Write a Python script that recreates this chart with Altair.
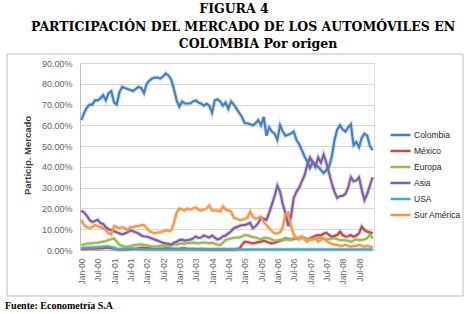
import altair as alt
import pandas as pd

# ---------------- data ----------------
series_names = ["Colombia", "México", "Europa", "Asia", "USA", "Sur América"]
series_colors = ["#4a7ebb", "#be4b48", "#98b954", "#7d60a0", "#46aac5", "#f79646"]

tick_labels = ["Jan-00", "Jul-00", "Jan-01", "Jul-01", "Jan-02", "Jul-02",
               "Jan-03", "Jul-03", "Jan-04", "Jul-04", "Jan-05", "Jul-05",
               "Jan-06", "Jul-06", "Jan-07", "Jul-07", "Jan-08", "Jul-08"]

colombia = [62.5, 66, 68.5, 70, 70, 72, 72, 73, 74.5, 72,
            75.5, 76.5, 71, 70, 76, 78.5, 78, 77.5, 77, 76.5,
            77.5, 78.5, 78, 75.5, 80, 81.5, 82.5, 83, 83, 82.5,
            83.5, 85, 84, 82, 77.5, 72, 69, 71.5, 70.5, 70.5,
            70.5, 71.5, 72, 71, 70.5, 69.5, 70.5, 69.5, 66, 72,
            72.5, 71.5, 69.5, 71, 68, 71.5, 70, 68, 66, 64,
            61, 61, 60.5, 60, 61, 62.5, 60, 64, 55, 59,
            57, 56, 53, 60, 57, 55, 55.5, 56, 57, 53,
            51, 48, 45, 42.5, 39.5, 42.5, 41, 40, 38.5, 37,
            38.5, 40, 45, 53, 58, 60, 58, 57, 59, 60.5,
            50.5, 52, 49.5, 54, 56, 55, 50, 48]

mexico = [0.5, 0.5, 0.6, 0.6, 0.7, 0.7, 0.8, 0.8, 0.9, 1.0,
          1.0, 0.9, 0.6, 0.4, 0.3, 0.3, 0.3, 0.4, 0.4, 0.5,
          0.6, 0.8, 1.0, 1.0, 1.0, 0.8, 0.6, 0.5, 0.5, 0.6,
          0.7, 0.8, 0.8, 0.7, 0.6, 0.6, 0.6, 0.8, 0.8, 0.6,
          0.5, 0.5, 0.4, 0.4, 0.5, 0.4, 0.3, 0.3, 0.3, 0.3,
          0.3, 0.3, 0.3, 0.3, 0.3, 0.3, 0.3, 0.5, 0.5, 2.5,
          4, 3.8, 3.5, 3.2, 3.5, 3.8, 4, 4.5, 4, 3.5,
          3.2, 3.5, 4, 4.5, 5, 5.6, 5.3, 5.1, 5.3, 5.6,
          5.8, 6, 5.6, 5.1, 5.6, 6.2, 6.8, 7.2, 7, 7.8,
          8.3, 7.2, 6.4, 6.8, 7.2, 8.8, 7.2, 6.4, 6.6, 7.2,
          6.4, 7, 8, 11.3, 9.6, 8.8, 8.5, 8]

europa = [2.5, 2.7, 3, 3.2, 3.2, 3.5, 3.5, 3.8, 4, 4.3,
          4.8, 5.2, 5.6, 4, 2.5, 2, 1.6, 1.7, 1.9, 2.2,
          2.4, 2.6, 2.7, 2.5, 2.4, 2, 1.8, 1.6, 1.8, 2,
          2.2, 2, 2.2, 2.4, 2.8, 2.6, 3, 3.2, 3, 3.4,
          3.3, 3.5, 3.4, 3.2, 3.5, 3.6, 3.5, 3.2, 3.5, 3,
          2.6, 2.4, 3.5, 4.8, 5.2, 5.6, 5.8, 6, 6, 6.5,
          7.2, 7, 6.7, 6.2, 6, 5.5, 5.1, 6, 5.8, 5.6,
          5, 4.5, 4.6, 4.8, 5, 5.1, 5, 5.3, 5.6, 5.6,
          5.8, 6, 5.6, 5.1, 5, 5.4, 5.6, 5.8, 6, 5.6,
          5.1, 5.3, 5.6, 5.6, 5.2, 4.8, 4.8, 4.6, 4.5, 4,
          4.6, 5.1, 4.8, 4.8, 5.2, 5.6, 7.5, 5.5]

asia = [19, 18, 16.5, 14.5, 13.5, 14, 14.5, 13, 12.5, 11,
        10, 9.5, 9, 8.5, 8, 7.5, 8, 8.5, 9.5, 9,
        8.5, 8, 7, 6.5, 6.5, 6, 5.5, 5, 4.5, 4,
        3.5, 3.2, 3, 2.5, 3.5, 4, 4.8, 5, 4.5, 4.8,
        5, 5.5, 6.5, 5.8, 6, 7, 6.5, 6, 7, 6,
        5, 5.5, 6.5, 7, 8, 9, 10.5, 11, 11.5, 12,
        12, 12.5, 13, 10.5, 11.5, 13, 15.5, 15, 14.5, 18,
        22, 26, 31, 28, 22, 17.5, 11.5, 16, 25, 28,
        30, 33, 36, 41, 44.5, 42, 40, 44.5, 42, 46,
        42, 37, 32, 28, 25, 26, 26, 27, 30, 35,
        33, 33.5, 35, 29, 24, 27, 31, 35]

usa = [1.0, 1.0, 1.1, 1.2, 1.2, 1.3, 1.4, 1.5, 1.6, 1.8,
       1.6, 1.4, 1.0, 0.6, 0.4, 0.5, 0.6, 0.8, 0.7, 0.6,
       0.5, 0.4, 0.4, 0.3, 0.3, 0.3, 0.3, 0.3, 0.3, 0.3,
       0.3, 0.3, 0.3, 0.3, 0.3, 0.3, 0.3, 0.3, 0.3, 0.3,
       0.3, 0.3, 0.3, 0.3, 0.3, 0.3, 0.3, 0.3, 0.3, 0.3,
       0.3, 0.3, 0.3, 0.3, 0.3, 0.3, 0.3, 0.3, 0.3, 0.3,
       0.3, 0.3, 0.3, 0.3, 0.3, 0.3, 0.3, 0.3, 0.3, 0.3,
       0.3, 0.3, 0.3, 0.3, 0.3, 0.3, 0.3, 0.3, 0.3, 0.3,
       0.3, 0.3, 0.3, 0.3, 0.3, 0.3, 0.3, 0.3, 0.3, 0.3,
       0.3, 0.3, 0.3, 0.3, 0.3, 0.3, 0.3, 0.3, 0.3, 0.3,
       0.3, 0.3, 0.3, 0.3, 0.3, 0.3, 0.3, 0.3]

sur_america = [14.5, 12, 11, 10.5, 11, 12, 11.5, 11, 10.5, 9.5,
               8, 7.5, 11.5, 11, 10.5, 11, 10.5, 9.5, 11, 11,
               11.5, 11.5, 12, 12, 10.5, 9, 8.5, 8, 8.5, 8.5,
               9, 9.5, 9, 9.5, 13, 18, 20, 19.5, 19, 20,
               19.5, 20, 20.5, 19.5, 19, 19.5, 20, 21.5, 19, 19,
               19, 18.5, 21, 19.5, 19, 18.5, 15.5, 15, 14.5, 14.5,
               15, 15.5, 18.5, 16, 15, 15.5, 16, 13.5, 12, 10.5,
               9, 8, 8, 8.5, 11, 17.5, 18, 11.5, 7.5, 6,
               5, 6.5, 5, 4, 5.5, 5, 6, 4, 5, 5.5,
               4.5, 3.5, 3, 2.5, 2.5, 2, 2, 2.5, 2, 1.5,
               2, 2, 2.5, 2, 1.5, 2, 1.5, 1.5]

all_series = [colombia, mexico, europa, asia, usa, sur_america]

rows = []
for name, vals in zip(series_names, all_series):
    for i, v in enumerate(vals):
        rows.append({"m": i, "s": name, "v": v / 100.0})
df = pd.DataFrame(rows)

n_months = len(colombia)
label_expr = "[" + ",".join("'%s'" % t for t in tick_labels) + "][round(datum.value/6)]"

SANS = "Liberation Sans"
SERIF = "DejaVu Serif"

x_enc = alt.X(
    "m:Q",
    scale=alt.Scale(domain=[-0.5, n_months - 0.5], nice=False, zero=False),
    axis=alt.Axis(values=list(range(0, n_months, 6)), labelExpr=label_expr,
                  labelAngle=270, labelAlign="right", labelBaseline="middle",
                  labelPadding=8, ticks=False, grid=False, domainColor="#bfbfbf",
                  labelFont=SANS, labelFontSize=8.5, labelColor="#666666",
                  labelOverlap=False, title=None),
)
y_enc = alt.Y(
    "v:Q",
    scale=alt.Scale(domain=[0, 0.9], nice=False),
    axis=alt.Axis(values=[i / 10 for i in range(10)], format=".2%",
                  ticks=False, grid=True, gridColor="#d9d9d9", domainColor="#bfbfbf",
                  labelFont=SANS, labelFontSize=9, labelColor="#666666",
                  labelPadding=8, title="Particip. Mercado",
                  titleFont=SANS, titleFontSize=9.5, titleFontWeight="bold",
                  titleColor="#404040", titleAngle=270, titleX=-53, titleY=92,
                  titleAlign="center", titleBaseline="middle"),
)
color_scale = alt.Scale(domain=series_names, range=series_colors)
legend_spec = alt.Legend(orient="none", legendX=309, legendY=64,
                         symbolType="stroke", symbolSize=400,
                         symbolStrokeWidth=2.5, symbolOpacity=1, clipHeight=16,
                         rowPadding=0, padding=0, labelOffset=2,
                         labelFont=SANS, labelFontSize=8.5,
                         labelColor="#262626", title=None)

shadow = alt.Chart(df).mark_line(strokeWidth=4.5, opacity=0.22).encode(
    x=x_enc, y=y_enc,
    color=alt.Color("s:N", scale=color_scale, sort=series_names, legend=legend_spec),
)
lines = alt.Chart(df).mark_line(strokeWidth=2.2).encode(
    x=x_enc, y=y_enc,
    color=alt.Color("s:N", scale=color_scale, sort=series_names, legend=legend_spec),
)

one = alt.Data(values=[{"k": 1}])

frame = alt.Chart(one).mark_rect(fill=None, stroke="#bfbfbf", strokeWidth=1).encode(
    x=alt.value(-73), x2=alt.value(383), y=alt.value(-9), y2=alt.value(233)
)

def txt(s, x, y, size, align="center", font=SERIF):
    return alt.Chart(one).mark_text(font=font, fontSize=size, fontWeight="bold",
                                    align=align, baseline="alphabetic",
                                    color="#000000").encode(
        text=alt.value(s), x=alt.value(x), y=alt.value(y))

t1 = txt("FIGURA 4", 154, -50, 12.5)
t2 = txt("PARTICIPACIÓN DEL MERCADO DE LOS AUTOMÓVILES EN", 163, -32.5, 12.5)
t3 = txt("COLOMBIA Por origen", 178, -15, 12.5)
foot = txt("Fuente: Econometría S.A", -75, 246, 10, align="left", font="Liberation Serif")

chart = alt.layer(frame, shadow, lines, t1, t2, t3, foot).properties(
    width=294, height=187,
    autosize=alt.AutoSizeParams(type="none"),
    padding={"left": 80, "top": 63, "right": 96, "bottom": 64},
).configure_view(stroke=None).configure(background="white")

chart.save("out.html", embed_options={"renderer": "svg", "actions": False})
